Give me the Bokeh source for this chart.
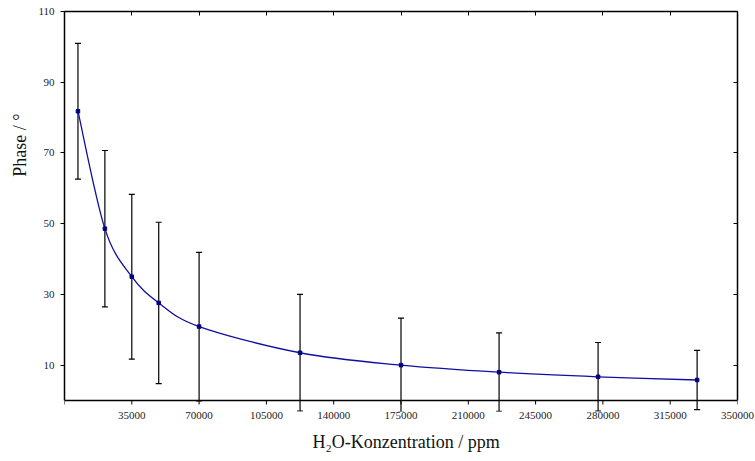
from bokeh.plotting import figure
from bokeh.models import (ColumnDataSource, Whisker, TeeHead, FixedTicker, Span, Title,
                          LinearAxis, Range1d, BasicTickFormatter, CustomJSTickFormatter)
from bokeh.embed import file_html
from bokeh.resources import INLINE

# --- data ---
concentration = [7000, 21000, 35000, 49000, 70000, 122500, 175000, 226000, 277500, 329000]
phase = [81.8, 48.6, 35.0, 27.6, 20.9, 13.5, 10.0, 8.0, 6.7, 5.8]
phase_err = [19.2, 22.1, 23.3, 22.8, 21.0, 16.5, 13.3, 11.1, 9.7, 8.4]

x_ticks = [0, 35000, 70000, 105000, 140000, 175000, 210000, 245000, 280000, 315000, 350000]
y_ticks = [10, 30, 50, 70, 90, 110]

x_title = "H\u2082O-Konzentration / ppm"
y_title = "Phase / \u00b0"

FONT = "Liberation Serif"
LINE_COLOR = "#1010a0"
MARK_COLOR = "#000080"
Y_MIN = -3.11         # room below the zero line for the clipped error-bar ends
TICK_LEN = 1.13       # 4 px in y data units

p = figure(width=755, height=461, output_backend="svg", toolbar_location=None,
           x_range=Range1d(0, 350000), y_range=Range1d(Y_MIN, 110),
           min_border_left=64, min_border_right=18, min_border_top=11, min_border_bottom=50)
p.xgrid.visible = False
p.ygrid.visible = False
p.outline_line_color = None
p.background_fill_color = "white"
p.border_fill_color = "white"

# x axis: labels only (its line/ticks are drawn at y = 0 below)
xa = p.xaxis[0]
xa.ticker = FixedTicker(ticks=x_ticks)
xa.formatter = BasicTickFormatter(use_scientific=False)
xa.major_label_overrides = {0: ""}
xa.axis_line_color = None
xa.major_tick_line_color = None
xa.minor_tick_line_color = None
xa.major_tick_in = 0
xa.major_tick_out = 0
xa.major_label_standoff = 0
xa.major_label_text_font = FONT
xa.major_label_text_font_size = "11px"
xa.major_label_text_color = "#222222"

ya = p.yaxis[0]
ya.ticker = FixedTicker(ticks=y_ticks)
ya.bounds = (0, 110)
ya.minor_tick_line_color = None
ya.major_tick_in = 0
ya.major_tick_out = 4
ya.axis_line_width = 1.5
ya.major_label_text_font = FONT
ya.major_label_text_font_size = "11px"
ya.major_label_text_color = "#222222"
ya.major_label_standoff = 6

# zero line acting as the bottom axis, with its outward ticks
p.add_layout(Span(location=0, dimension="width", line_color="black", line_width=1.5))
p.segment(x0=x_ticks, x1=x_ticks, y0=[0] * len(x_ticks), y1=[-TICK_LEN] * len(x_ticks),
          line_color="black", line_width=1)

# top / right axes with inward ticks, no labels
blank = CustomJSTickFormatter(code="return ''")
top = LinearAxis(ticker=FixedTicker(ticks=x_ticks), major_tick_in=4, major_tick_out=0,
                 minor_tick_line_color=None, formatter=blank,
                 major_label_standoff=0, axis_line_width=1.5)
right = LinearAxis(ticker=FixedTicker(ticks=y_ticks), major_tick_in=4, major_tick_out=0,
                   minor_tick_line_color=None, formatter=blank, bounds=(0, 110),
                   major_label_standoff=0, axis_line_width=1.5)
p.add_layout(top, "above")
p.add_layout(right, "right")

# axis titles
p.add_layout(Title(text=y_title, align="right", offset=102, text_font=FONT,
                   text_font_size="18px", text_font_style="normal", text_color="#111111",
                   standoff=12), "left")
p.add_layout(Title(text=x_title, align="left", offset=248, text_font=FONT,
                   text_font_size="18px", text_font_style="normal", text_color="#111111",
                   standoff=16), "below")

src = ColumnDataSource(dict(
    x=concentration, y=phase,
    upper=[v + e for v, e in zip(phase, phase_err)],
    lower=[v - e for v, e in zip(phase, phase_err)],
))

# error bars
wh = Whisker(base="x", upper="upper", lower="lower", source=src, dimension="height",
             line_color="black", line_width=1.2,
             upper_head=TeeHead(size=6, line_color="black", line_width=1.2),
             lower_head=TeeHead(size=6, line_color="black", line_width=1.2))
p.add_layout(wh)

# smooth curve through the points (Catmull-Rom as cubic Bezier segments)
n = len(concentration)
x0, y0, x1, y1, cx0, cy0, cx1, cy1 = [], [], [], [], [], [], [], []
for i in range(n - 1):
    a = i - 1 if i > 0 else i
    d = i + 2 if i + 2 < n else i + 1
    x0.append(concentration[i]); y0.append(phase[i])
    x1.append(concentration[i + 1]); y1.append(phase[i + 1])
    cx0.append(concentration[i] + (concentration[i + 1] - concentration[a]) / 6)
    cy0.append(phase[i] + (phase[i + 1] - phase[a]) / 6)
    cx1.append(concentration[i + 1] - (concentration[d] - concentration[i]) / 6)
    cy1.append(phase[i + 1] - (phase[d] - phase[i]) / 6)
p.bezier(x0=x0, y0=y0, x1=x1, y1=y1, cx0=cx0, cy0=cy0, cx1=cx1, cy1=cy1,
         line_color=LINE_COLOR, line_width=1.3)

p.scatter(x="x", y="y", source=src, marker="square", size=3.5,
          fill_color=MARK_COLOR, line_color=MARK_COLOR)

open("out.html", "w").write(file_html(p, INLINE))
